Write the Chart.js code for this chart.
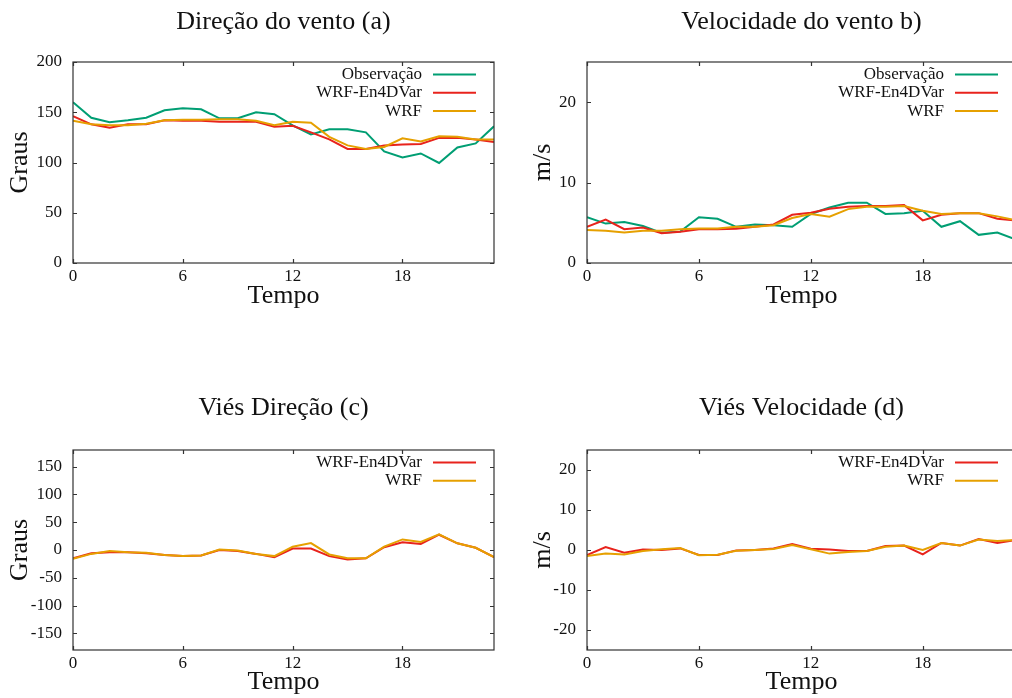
<!DOCTYPE html>
<html>
<head>
<meta charset="utf-8">
<script src="https://cdn.jsdelivr.net/npm/chart.js@4.4.1/dist/chart.umd.min.js"></script>
<style>
  html, body { margin: 0; padding: 0; background: #fff; overflow: hidden; }
  body { width: 1012px; height: 698px; position: relative; }
  canvas { position: absolute; }
</style>
</head>
<body>
<canvas id="dirChart" style="left:0;top:0" width="520" height="320"></canvas>
<canvas id="spdChart" style="left:520px;top:0" width="500" height="320"></canvas>
<canvas id="dirBiasChart" style="left:0;top:380px" width="520" height="318"></canvas>
<canvas id="spdBiasChart" style="left:520px;top:380px" width="500" height="318"></canvas>
<script>
// hourly series, 0..23 h
const hours = [0, 1, 2, 3, 4, 5, 6, 7, 8, 9, 10, 11, 12, 13, 14, 15, 16, 17, 18, 19, 20, 21, 22, 23];
const hourTicks = [0, 6, 12, 18];

const dirTicks = [0, 50, 100, 150, 200];
const spdTicks = [0, 10, 20];
const dirBiasTicks = [-150, -100, -50, 0, 50, 100, 150];
const spdBiasTicks = [-20, -10, 0, 10, 20];

// wind direction (degrees)
const obsDir = [160, 144.5, 140, 142, 144.5, 152, 154, 153, 144, 144, 150, 148, 137, 128, 133, 133, 130, 111, 105, 109, 99.5, 115, 119, 136];
const en4dDir = [146, 138, 134.5, 138, 138, 142, 141.5, 141.5, 140.5, 140.5, 140.5, 135.5, 136.5, 130, 123, 113.5, 113.5, 117, 118, 118.5, 124.5, 124.5, 123, 120.5];
const wrfDir = [141.5, 138, 137, 137, 138.5, 142, 142.5, 142.5, 143, 143, 141.5, 137, 140.5, 139.5, 125.5, 117, 113.5, 115.5, 124, 121, 126, 125.5, 123, 123];

// wind speed (m/s)
const obsSpd = [5.7, 4.9, 5.1, 4.6, 3.75, 3.9, 5.7, 5.5, 4.5, 4.8, 4.7, 4.5, 6.1, 6.9, 7.5, 7.5, 6.1, 6.2, 6.5, 4.5, 5.2, 3.5, 3.8, 2.9];
const en4dSpd = [4.5, 5.4, 4.2, 4.4, 3.7, 3.9, 4.2, 4.2, 4.25, 4.5, 4.8, 6.0, 6.25, 6.75, 7.0, 7.1, 7.1, 7.2, 5.3, 6.0, 6.2, 6.2, 5.5, 5.3];
const wrfSpd = [4.1, 4.0, 3.8, 4.0, 4.0, 4.2, 4.3, 4.3, 4.5, 4.5, 4.7, 5.6, 6.1, 5.75, 6.7, 7.0, 7.0, 7.1, 6.5, 6.1, 6.2, 6.2, 5.8, 5.3];

// bias of direction (degrees)
const en4dDirBias = [-15, -6, -4, -4, -6, -9, -11, -10, 0, -2, -7, -13, 2.5, 2.5, -11, -17, -15, 5, 14, 11, 27.5, 12, 4, -13];
const wrfDirBias = [-16, -7, -2, -4, -5, -9, -11, -10, 1, -1, -7, -11, 6, 12.5, -8, -15, -15, 6, 19, 14.5, 28, 12, 4, -13];

// bias of speed (m/s)
const en4dSpdBias = [-1.25, 0.75, -0.7, 0.1, 0, 0.4, -1.25, -1.25, -0.1, 0, 0.4, 1.5, 0.3, 0.1, -0.25, -0.25, 1.0, 1.1, -1.1, 1.75, 1.1, 2.75, 1.75, 2.5];
const wrfSpdBias = [-1.5, -0.9, -1.1, -0.25, 0.2, 0.5, -1.3, -1.2, -0.2, 0, 0.25, 1.25, 0.2, -0.9, -0.5, -0.25, 0.8, 1.1, 0, 1.75, 1.1, 2.6, 2.25, 2.5];

const GREEN = "#009e73";
const RED = "#e8231c";
const ORANGE = "#e6a000";
const serif = '"Liberation Serif", "DejaVu Serif", serif';
const ink = "#111";

// border box with gnuplot-style inward ticks on all four sides
const frame = {
  id: "frame",
  afterDatasetsDraw(chart) {
    const { ctx, chartArea: a, scales } = chart;
    const len = 4;
    ctx.save();
    ctx.strokeStyle = "#333";
    ctx.lineWidth = 1.2;
    ctx.strokeRect(a.left, a.top, a.right - a.left, a.bottom - a.top);
    ctx.beginPath();
    scales.x.ticks.forEach((t) => {
      const px = Math.round(scales.x.getPixelForValue(t.value)) + 0.5;
      ctx.moveTo(px, a.bottom); ctx.lineTo(px, a.bottom - len);
      ctx.moveTo(px, a.top); ctx.lineTo(px, a.top + len);
    });
    scales.y.ticks.forEach((t) => {
      const py = Math.round(scales.y.getPixelForValue(t.value)) + 0.5;
      ctx.moveTo(a.left, py); ctx.lineTo(a.left + len, py);
      ctx.moveTo(a.right, py); ctx.lineTo(a.right - len, py);
    });
    ctx.stroke();
    ctx.restore();
  }
};

// title centred over the plot box
const panelTitle = {
  id: "panelTitle",
  afterDraw(chart, args, opts) {
    const { ctx, chartArea: a } = chart;
    ctx.save();
    ctx.font = "26px " + serif;
    ctx.fillStyle = ink;
    ctx.textAlign = "center";
    ctx.textBaseline = "middle";
    ctx.fillText(opts.text, (a.left + a.right) / 2, opts.y);
    ctx.restore();
  }
};

// key in the top right corner: label first, line sample after it
const panelLegend = {
  id: "panelLegend",
  afterDraw(chart) {
    const { ctx, chartArea: a } = chart;
    ctx.save();
    ctx.font = "17px " + serif;
    ctx.fillStyle = ink;
    ctx.textAlign = "right";
    ctx.textBaseline = "middle";
    chart.data.datasets.forEach((ds, i) => {
      const y = a.top + 12.5 + i * 18.3;
      ctx.fillText(ds.label, a.right - 72, y);
      ctx.strokeStyle = ds.borderColor;
      ctx.lineWidth = 2;
      ctx.beginPath();
      ctx.moveTo(a.right - 61, y);
      ctx.lineTo(a.right - 18, y);
      ctx.stroke();
    });
    ctx.restore();
  }
};

function makePanel(id, p) {
  const n = p.series.length;
  return new Chart(document.getElementById(id), {
    type: "line",
    data: {
      datasets: p.series.map((s, i) => ({
        label: s.label,
        data: hours.map((h, k) => ({ x: h, y: s.values[k] })),
        borderColor: s.color,
        borderWidth: 2,
        pointRadius: 0,
        tension: 0,
        fill: false,
        order: n - i
      }))
    },
    options: {
      responsive: false,
      animation: false,
      layout: { padding: p.padding },
      plugins: {
        legend: { display: false },
        tooltip: { enabled: false },
        panelTitle: { text: p.title, y: p.titleY }
      },
      scales: {
        x: {
          type: "linear",
          min: 0,
          max: 23,
          afterBuildTicks: (s) => { s.ticks = hourTicks.map((v) => ({ value: v })); },
          afterFit: (s) => { s.height = p.xHeight; },
          grid: { display: false, drawTicks: false },
          border: { display: false },
          ticks: { autoSkip: false, maxRotation: 0, padding: 3, color: ink, font: { family: serif, size: 17 } },
          title: { display: true, text: "Tempo", color: ink, padding: 0, font: { family: serif, size: 26, lineHeight: 1 } }
        },
        y: {
          min: p.yMin,
          max: p.yMax,
          afterBuildTicks: (s) => { s.ticks = p.yTicks.map((v) => ({ value: v })); },
          afterFit: (s) => { s.width = p.yWidth; },
          grid: { display: false, drawTicks: false },
          border: { display: false },
          ticks: { autoSkip: false, padding: 11, color: ink, font: { family: serif, size: 17 } },
          title: { display: true, text: p.yTitle, color: ink, padding: { top: p.yTitlePad, bottom: 0 }, font: { family: serif, size: 26, lineHeight: 1 } }
        }
      }
    },
    plugins: [frame, panelTitle, panelLegend]
  });
}

makePanel("dirChart", {
  title: "Direção do vento (a)", titleY: 22,
  padding: { top: 62, right: 26, bottom: 11, left: 0 },
  xHeight: 46, yWidth: 73, yTitle: "Graus", yTitlePad: 7,
  yMin: 0, yMax: 200, yTicks: dirTicks,
  series: [
    { label: "Observação", values: obsDir, color: GREEN },
    { label: "WRF-En4DVar", values: en4dDir, color: RED },
    { label: "WRF", values: wrfDir, color: ORANGE }
  ]
});

makePanel("spdChart", {
  title: "Velocidade do vento b)", titleY: 22,
  padding: { top: 62, right: 4, bottom: 11, left: 0 },
  xHeight: 46, yWidth: 67, yTitle: "m/s", yTitlePad: 10,
  yMin: 0, yMax: 25, yTicks: spdTicks,
  series: [
    { label: "Observação", values: obsSpd, color: GREEN },
    { label: "WRF-En4DVar", values: en4dSpd, color: RED },
    { label: "WRF", values: wrfSpd, color: ORANGE }
  ]
});

makePanel("dirBiasChart", {
  title: "Viés Direção (c)", titleY: 28,
  padding: { top: 70, right: 26, bottom: 3, left: 0 },
  xHeight: 45, yWidth: 73, yTitle: "Graus", yTitlePad: 7,
  yMin: -180, yMax: 180, yTicks: dirBiasTicks,
  series: [
    { label: "WRF-En4DVar", values: en4dDirBias, color: RED },
    { label: "WRF", values: wrfDirBias, color: ORANGE }
  ]
});

makePanel("spdBiasChart", {
  title: "Viés Velocidade (d)", titleY: 28,
  padding: { top: 70, right: 4, bottom: 3, left: 0 },
  xHeight: 45, yWidth: 67, yTitle: "m/s", yTitlePad: 10,
  yMin: -25, yMax: 25, yTicks: spdBiasTicks,
  series: [
    { label: "WRF-En4DVar", values: en4dSpdBias, color: RED },
    { label: "WRF", values: wrfSpdBias, color: ORANGE }
  ]
});
</script>
</body>
</html>
